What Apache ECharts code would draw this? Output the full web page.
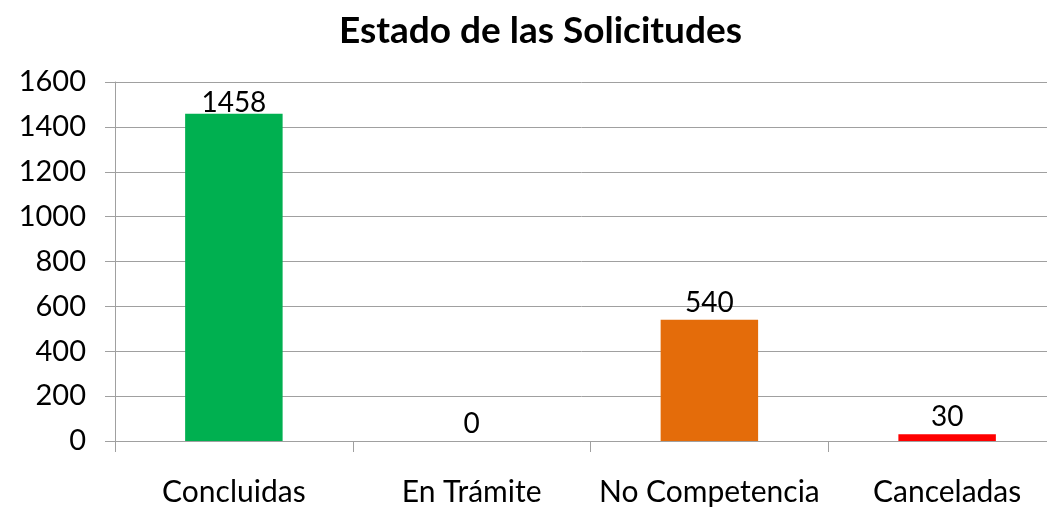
<!DOCTYPE html>
<html>
<head>
<meta charset="UTF-8">
<title>Estado de las Solicitudes</title>
<script src="https://cdn.jsdelivr.net/npm/echarts@6/dist/echarts.min.js"></script>
</head>
<body style="margin:0">
<div id="main" style="width:1047px;height:509px"></div>
<script>
var categorias = ['Concluidas', 'En Trámite', 'No Competencia', 'Canceladas'];
var valores = [1458, 0, 540, 30];
var colores = ['#00B050', '#00B050', '#E46C0A', '#FF0000'];

var chart = echarts.init(document.getElementById('main'));
var font = 'Lato, "Open Sans", sans-serif';
chart.setOption({
  backgroundColor: '#fff',
  title: {
    text: 'Estado de las Solicitudes',
    left: 334,
    top: 8,
    textStyle: { fontFamily: font, fontSize: 37, fontWeight: 'bold', color: '#000' }
  },
  grid: { left: 115, width: 951, top: 82, bottom: 68, outerBoundsMode: 'none' },
  xAxis: {
    type: 'category',
    data: categorias,
    axisLine: { lineStyle: { color: '#a0a0a0', width: 1 } },
    axisTick: { show: true, length: 11, lineStyle: { color: '#a0a0a0' } },
    axisLabel: { fontFamily: font, fontSize: 30, color: '#000', margin: 36, interval: 0 }
  },
  yAxis: {
    type: 'value',
    min: 0, max: 1600, interval: 200,
    axisLine: { show: true, lineStyle: { color: '#a0a0a0' } },
    axisTick: { show: true, length: 10, lineStyle: { color: '#a0a0a0' } },
    axisLabel: { fontFamily: font, fontSize: 29, color: '#000', margin: 29, formatter: function (v) { return String(v); } },
    splitLine: { lineStyle: { color: '#a0a0a0' } }
  },
  series: [{
    type: 'bar',
    barWidth: '41%',
    data: valores.map(function (v, i) {
      return { value: v, itemStyle: { color: colores[i] }, label: { distance: i === 0 ? -3 : 3 } };
    }),
    label: {
      show: true, position: 'top',
      fontFamily: font, fontSize: 28, color: '#000'
    }
  }]
});
</script>
</body>
</html>
